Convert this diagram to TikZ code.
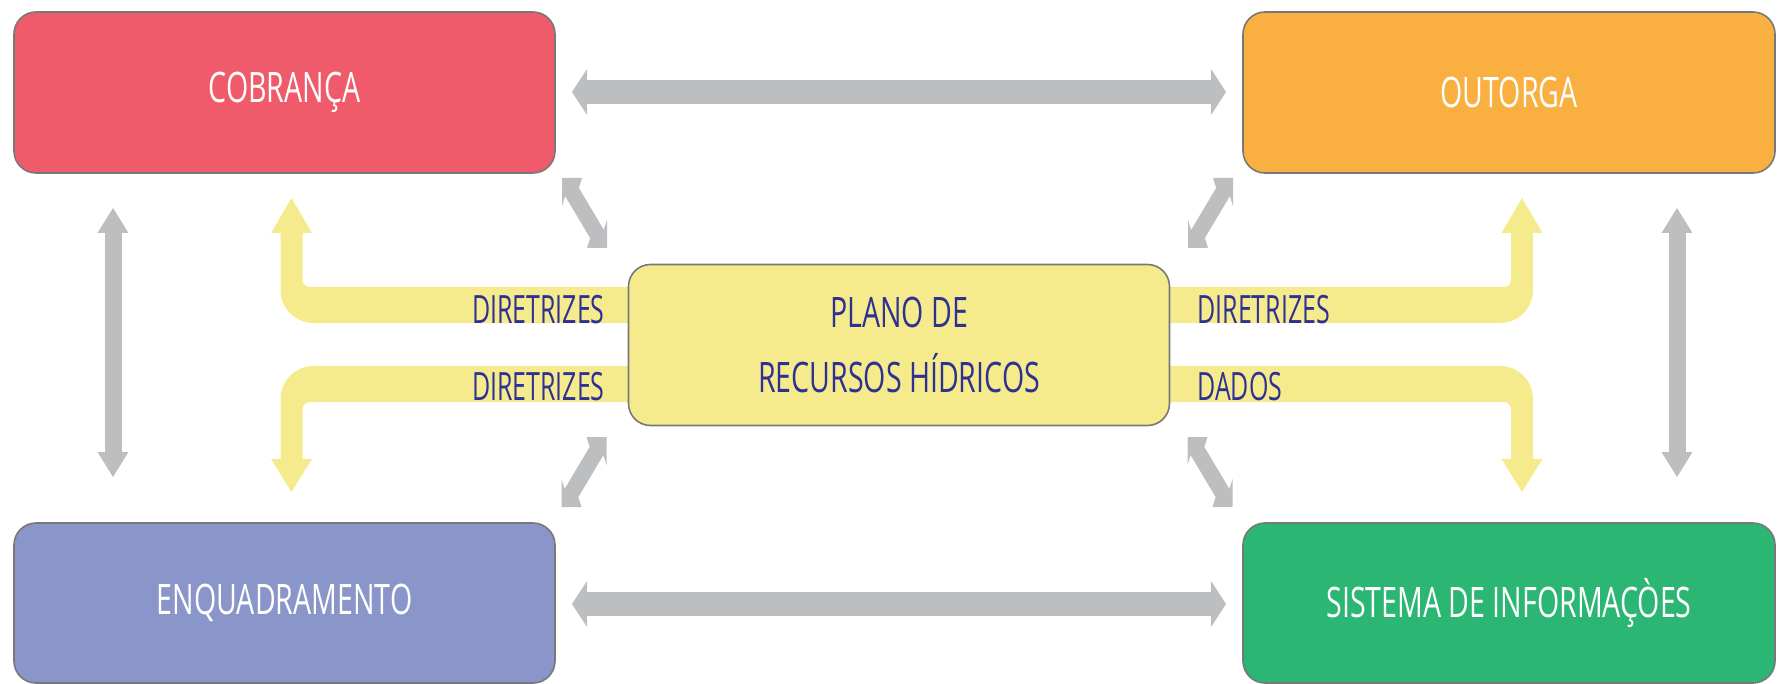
\documentclass[tikz,border=0pt]{standalone}
\usepackage{fontspec}
\setmainfont{Open Sans}[FakeStretch=0.68]
\newfontfamily\reslblfont{Open Sans}[FakeStretch=0.64]
\usetikzlibrary{arrows.meta}
\definecolor{cobr}{RGB}{239,91,106}
\definecolor{outo}{RGB}{249,176,64}
\definecolor{enqu}{RGB}{138,150,201}
\definecolor{sist}{RGB}{43,182,115}
\definecolor{plan}{RGB}{245,235,140}
\definecolor{arrg}{RGB}{188,190,192}
\definecolor{navy}{RGB}{46,49,146}
\definecolor{bord}{RGB}{120,120,120}
\newcommand{\resdiag}[1]{\fill[darrow,#1] (-22.5,-35) -- (-2.5,-35) -- (-5.63,-25.09) -- (19.37,16.91) -- (22.5,7) -- (22.5,35) -- (2.5,35) -- (5.63,25.09) -- (-19.37,-16.91) -- (-22.5,-7) -- cycle;}
\begin{document}
\begin{tikzpicture}[x=0.5pt,y=-0.5pt,
  box/.style={draw=bord, line width=0.8pt, rounded corners=11pt, minimum width=270.5pt, minimum height=80.5pt, inner sep=0pt, font=\fontsize{21}{25}\selectfont, text=white},
  lbl/.style={font=\reslblfont\fontsize{19.5}{22}\selectfont, text=navy, inner sep=0pt},
  garrowh/.style={draw=arrg, line width=12pt, {Triangle[length=7.5pt,width=23pt,line width=0pt]}-{Triangle[length=7.5pt,width=23pt,line width=0pt]}},
  garrowv/.style={draw=arrg, line width=8.5pt, {Triangle[length=12.5pt,width=15.5pt,line width=0pt]}-{Triangle[length=12.5pt,width=15.5pt,line width=0pt]}},
  yarrow/.style={fill=plan, draw=none},
  darrow/.style={fill=arrg, draw=none}]

\useasboundingbox (0,0) rectangle (1777,684);

% yellow arrows (behind the central box)
\fill[yarrow] (640,287) -- (310,287) .. controls (306.1,287) and (302.5,283.9) .. (302.5,280) -- (302.5,233) -- (312,233) -- (291.5,198) -- (271,233) -- (280.5,233) -- (280.5,290) .. controls (280.5,308.2) and (295.3,323) .. (313.5,323) -- (640,323) -- cycle;
\fill[yarrow] (1158,287) -- (1504,287) .. controls (1507.9,287) and (1511,283.9) .. (1511,280) -- (1511,233) -- (1501.5,233) -- (1522,198) -- (1542.5,233) -- (1533,233) -- (1533,290) .. controls (1533,308.2) and (1518.2,323) .. (1500,323) -- (1158,323) -- cycle;
\fill[yarrow] (640,402) -- (310,402) .. controls (306.1,402) and (302.5,405.1) .. (302.5,409) -- (302.5,459) -- (312,459) -- (291.5,492) -- (271,459) -- (280.5,459) -- (280.5,399) .. controls (280.5,380.8) and (295.3,366) .. (313.5,366) -- (640,366) -- cycle;
\fill[yarrow] (1158,402) -- (1504,402) .. controls (1507.9,402) and (1511,405.1) .. (1511,409) -- (1511,459) -- (1501.5,459) -- (1522,492) -- (1542.5,459) -- (1533,459) -- (1533,399) .. controls (1533,380.8) and (1518.2,366) .. (1500,366) -- (1158,366) -- cycle;

% boxes
\node[box, fill=cobr] (cob) at (284.5,92.5) {COBRANÇA};
\node[box, fill=outo, minimum width=266pt] (out) at (1509,92.5) {OUTORGA};
\node[box, fill=enqu, minimum height=80pt] (enq) at (284.5,603) {ENQUADRAMENTO};
\node[box, fill=sist, minimum width=266pt, minimum height=80pt] (sis) at (1509,603) {SISTEMA DE INFORMAÇÒES};
\node[box, fill=plan, text=navy, align=center, font=\fontsize{21}{32.5}\selectfont] (pla) at (899,345) {PLANO DE\\RECURSOS HÍDRICOS};

% labels on the yellow arrows
\node[lbl, anchor=base east] (d1) at (605,323) {DIRETRIZES};
\node[lbl, anchor=base east] (d2) at (605,400) {DIRETRIZES};
\node[lbl, anchor=base west] (d3) at (1197,323) {DIRETRIZES};
\node[lbl, anchor=base west] (d4) at (1197,400) {DADOS};

% grey straight double arrows
\coordinate (ht1) at (572,92);  \coordinate (ht2) at (1226,92);
\coordinate (hb1) at (572,604); \coordinate (hb2) at (1226,604);
\coordinate (vl1) at (113,208); \coordinate (vl2) at (113,477);
\coordinate (vr1) at (1677,208); \coordinate (vr2) at (1677,477);
\draw[garrowh] (ht1) -- (ht2);
\draw[garrowh] (hb1) -- (hb2);
\draw[garrowv] (vl1) -- (vl2);
\draw[garrowv] (vr1) -- (vr2);

% grey diagonal double arrows
\resdiag{shift={(584.5,213)}}
\resdiag{shift={(1210.5,213)},xscale=-1}
\resdiag{shift={(584,472)},xscale=-1}
\resdiag{shift={(1210,472)}}
\end{tikzpicture}
\end{document}
